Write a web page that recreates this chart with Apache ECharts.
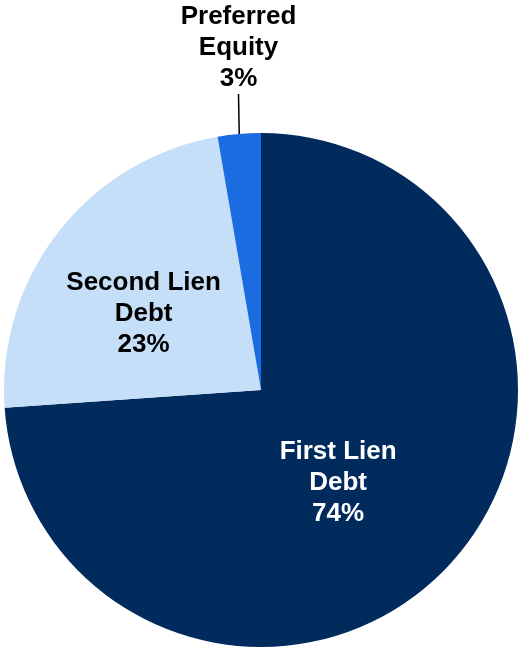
<!DOCTYPE html>
<html>
<head>
<meta charset="utf-8">
<script src="https://cdn.jsdelivr.net/npm/echarts@6/dist/echarts.min.js"></script>
<style>
html,body{margin:0;padding:0;background:#fff;}
#chart{width:519px;height:648px;}
</style>
</head>
<body>
<div id="chart"></div>
<script>
const categories = ['First Lien\nDebt', 'Second Lien\nDebt', 'Preferred\nEquity'];
const values = [73.9, 23.4, 2.7];
const colors = ['#022B5D', '#C6DFF8', '#1A6CE0'];
const labelColors = ['#ffffff', '#000000', '#000000'];

const chart = echarts.init(document.getElementById('chart'), null, {renderer: 'canvas'});
const labelOffsets = [[-19, 3], [-14, 5]];

chart.setOption({
  animation: false,
  series: [{
    type: 'pie',
    center: [261, 390],
    radius: [0, 257],
    startAngle: 90,
    clockwise: true,
    percentPrecision: 0,
    avoidLabelOverlap: false,
    itemStyle: {borderWidth: 0},
    label: {
      position: 'inside',
      formatter: '{b}\n{d}%',
      fontFamily: 'Liberation Sans, Arial, sans-serif',
      fontWeight: 'bold',
      fontSize: 26,
      lineHeight: 31,
      align: 'center'
    },
    labelLayout: function (params) {
      const i = params.dataIndex;
      if (i === 2) {
        const pts = params.labelLinePoints;
        if (pts) {
          return {x: pts[1][0] + 2.5, y: pts[1][1] - 2, align: 'center', verticalAlign: 'bottom'};
        }
        return {};
      }
      return {dx: labelOffsets[i][0], dy: labelOffsets[i][1]};
    },
    data: categories.map((c, i) => {
      const d = {
        name: c,
        value: values[i],
        itemStyle: {color: colors[i]},
        label: {color: labelColors[i]}
      };
      if (i === 2) {
        d.label = {
          color: labelColors[i],
          position: 'outside',
          align: 'center',
          verticalAlign: 'bottom'
        };
        d.labelLine = {
          show: true,
          length: 38,
          length2: 0,
          lineStyle: {color: '#000000', width: 1.5}
        };
      }
      return d;
    })
  }]
});
</script>
</body>
</html>
